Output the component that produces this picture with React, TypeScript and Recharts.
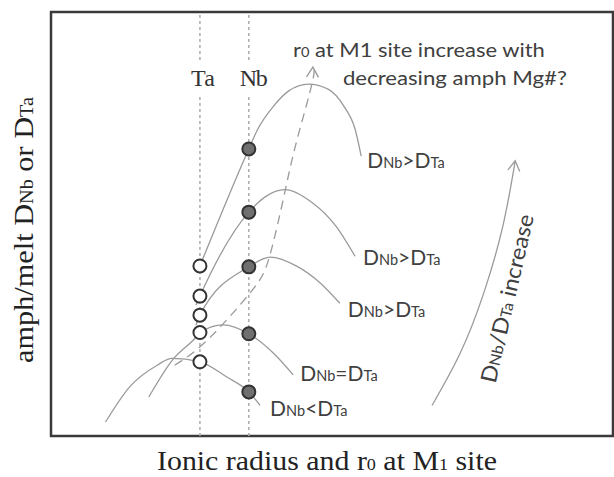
import React from 'react';
import {
  ComposedChart,
  Line,
  Scatter,
  XAxis,
  YAxis,
  ReferenceLine,
  ReferenceArea,
  ReferenceDot,
  LabelList,
} from 'recharts';

// Element positions on the ionic-radius axis (arbitrary units, 0–100)
const elements = ['Ta', 'Nb'];
const elementRadius = [26.5, 35.2];

// amph/melt D values at Ta and Nb for each lattice-strain curve (top to bottom)
const taValues = [40.1, 33.0, 28.5, 24.4, 17.5];
const nbValues = [67.7, 52.8, 39.9, 24.1, 10.4];
const relations = ['>', '>', '>', '=', '<'];

// Lattice-strain parabolas, ionic radius r vs partition coefficient d
const curveA = [
  { r: 26.5, d: 40.1 }, { r: 35.2, d: 67.7 }, { r: 36.8, d: 72.4 }, { r: 39.6, d: 77.8 },
  { r: 42.3, d: 81.4 }, { r: 45.8, d: 83.0 }, { r: 49.3, d: 81.8 }, { r: 52.1, d: 77.8 },
  { r: 54.1, d: 72.4 }, { r: 55.2, d: 66.0 },
];
const curveB = [
  { r: 25.8, d: 30.9 }, { r: 26.5, d: 33.0 }, { r: 35.2, d: 52.8 }, { r: 38.1, d: 56.4 },
  { r: 41.6, d: 58.1 }, { r: 46.5, d: 55.0 }, { r: 50.7, d: 49.5 }, { r: 54.1, d: 42.4 },
];
const curveC = [
  { r: 25.8, d: 26.2 }, { r: 26.5, d: 28.5 }, { r: 35.2, d: 39.9 }, { r: 39.0, d: 42.2 },
  { r: 43.8, d: 40.0 }, { r: 47.9, d: 36.1 }, { r: 51.4, d: 31.3 },
];
const curveD = [
  { r: 17.4, d: 9.2 }, { r: 21.6, d: 17.9 }, { r: 25.8, d: 23.3 }, { r: 26.5, d: 24.4 },
  { r: 30.6, d: 26.2 }, { r: 35.2, d: 24.1 }, { r: 39.6, d: 19.5 }, { r: 43.1, d: 14.4 },
];
const curveE = [
  { r: 9.7, d: 3.3 }, { r: 14.0, d: 11.6 }, { r: 18.9, d: 16.7 }, { r: 21.5, d: 18.3 },
  { r: 26.5, d: 17.5 }, { r: 31.3, d: 13.9 }, { r: 35.2, d: 10.4 }, { r: 37.2, d: 7.2 },
];
const curves = [curveA, curveB, curveC, curveD, curveE];

// Trend of r0 through the curve maxima (dashed arrow)
const r0Trend = [
  { r: 22.0, d: 16.7 }, { r: 27.8, d: 22.6 }, { r: 35.4, d: 33.7 }, { r: 38.9, d: 42.4 },
  { r: 41.7, d: 58.1 }, { r: 43.8, d: 70.0 }, { r: 46.5, d: 83.4 }, { r: 46.6, d: 87.0 },
];

// DNb/DTa increase arrow
const ratioArrow = [
  { r: 67.8, d: 7.2 }, { r: 72.8, d: 19.5 }, { r: 77.0, d: 33.7 }, { r: 80.4, d: 49.5 },
  { r: 82.6, d: 64.9 },
];

const taPoints = taValues.map((d) => ({ r: elementRadius[0], d }));
const nbPoints = nbValues.map((d) => ({ r: elementRadius[1], d }));

const SANS = 'Lato, "Open Sans", sans-serif';
const SERIF = '"Liberation Serif", "Times New Roman", serif';
const CURVE = '#9a9a9a';
const INK = '#404040';

// offsets from each curve's end to its ratio label
const labelOffsets = [
  [6, 12], [8, 9], [8, 14], [7, 6], [10, 11],
];

const ratioLabel = (k: number, len: number) => (props: any) => {
  const { x, y, index } = props;
  if (index !== len - 1) return null;
  const [dx, dy] = labelOffsets[k];
  return (
    <text x={x + dx} y={y + dy} fontFamily={SANS} fill={INK}>
      <tspan fontSize={21}>D</tspan>
      <tspan fontSize={14.5}>Nb</tspan>
      <tspan fontSize={21}>{relations[k]}D</tspan>
      <tspan fontSize={14.5}>Ta</tspan>
    </text>
  );
};

const arrowHead = (len: number, tilt: number) => (props: any) => {
  const { x, y, index } = props;
  if (index !== len - 1) return null;
  return (
    <path
      d={`M${x - 6},${y + 10} L${x},${y} L${x + 6},${y + 10}`}
      transform={`rotate(${tilt}, ${x}, ${y})`}
      fill="none"
      stroke={CURVE}
      strokeWidth={1.3}
    />
  );
};

const trendNote = (props: any) => {
  const { x, y, index } = props;
  if (index !== r0Trend.length - 1) return null;
  return (
    <g fontFamily={SANS} fill={INK} fontSize={19.5}>
      <text x={x - 20} y={y - 10} textLength={252} lengthAdjust="spacingAndGlyphs">
        r<tspan fontSize={13}>0</tspan> at M1 site increase with
      </text>
      <text x={x + 30} y={y + 18} textLength={224} lengthAdjust="spacingAndGlyphs">
        decreasing amph Mg#?
      </text>
    </g>
  );
};

const ratioNote = (props: any) => {
  const { x, y, index } = props;
  if (index !== 2) return null;
  const cx = x + 31;
  const cy = y + 7;
  return (
    <text
      x={cx}
      y={cy}
      transform={`rotate(-77, ${cx}, ${cy})`}
      textAnchor="middle"
      fontFamily={SANS}
      fill={INK}
      textLength={172}
      lengthAdjust="spacingAndGlyphs"
    >
      <tspan fontSize={22}>D</tspan>
      <tspan fontSize={15}>Nb</tspan>
      <tspan fontSize={22}>/D</tspan>
      <tspan fontSize={15}>Ta</tspan>
      <tspan fontSize={22}> increase</tspan>
    </text>
  );
};

const XTitle = (props: any) => {
  const vb = props.viewBox || { x: 51, y: 436, width: 562, height: 41 };
  const cx = vb.x + vb.width / 2 - 5;
  return (
    <text
      x={cx}
      y={vb.y + 34}
      textAnchor="middle"
      fontFamily={SERIF}
      fontSize={28}
      fill="#222"
      textLength={340}
      lengthAdjust="spacingAndGlyphs"
    >
      Ionic radius and r<tspan fontSize={17}>0</tspan> at M<tspan fontSize={17}>1</tspan> site
    </text>
  );
};

const YTitle = (props: any) => {
  const vb = props.viewBox || { x: 0, y: 12, width: 51, height: 424 };
  const cx = vb.x + 33;
  const cy = 230;
  return (
    <text
      x={cx}
      y={cy}
      transform={`rotate(-90, ${cx}, ${cy})`}
      textAnchor="middle"
      fontFamily={SERIF}
      fontSize={27}
      fill="#222"
      textLength={266}
      lengthAdjust="spacingAndGlyphs"
    >
      amph/melt D<tspan fontSize={18}>Nb</tspan> or D<tspan fontSize={18}>Ta</tspan>
    </text>
  );
};

const openCircle = (p: any) => (
  <circle cx={p.cx} cy={p.cy} r={6.5} fill="#fff" stroke="#333" strokeWidth={2} />
);
const filledCircle = (p: any) => (
  <circle cx={p.cx} cy={p.cy} r={6.5} fill="#6f6f6f" stroke="#333" strokeWidth={2} />
);

const elementTag = (name: string) => (p: any) => (
  <text
    x={p.cx - 9}
    y={p.cy}
    fontFamily={SERIF}
    fontSize={24}
    fill="#333"
    textLength={name === 'Ta' ? 24 : 28}
    lengthAdjust="spacing"
  >
    {name}
  </text>
);

export default function App() {
  return (
    <div style={{ position: 'absolute', left: 0, top: 0, background: '#fff' }}>
      <ComposedChart
        width={614}
        height={477}
        margin={{ top: 12, right: 1, bottom: 0, left: 0 }}
      >
        <XAxis
          dataKey="r"
          type="number"
          domain={[0, 100]}
          allowDataOverflow
          height={41}
          axisLine={false}
          tickLine={false}
          tick={false}
          label={<XTitle />}
        />
        <YAxis
          dataKey="d"
          type="number"
          domain={[0, 100]}
          allowDataOverflow
          width={51}
          axisLine={false}
          tickLine={false}
          tick={false}
          label={<YTitle />}
        />

        {elementRadius.map((r) => (
          <ReferenceLine
            key={`lo-${r}`}
            segment={[{ x: r, y: 0 }, { x: r, y: 80.0 }]}
            stroke="#aaa"
            strokeWidth={1.5}
            strokeDasharray="3 3"
          />
        ))}
        {elementRadius.map((r) => (
          <ReferenceLine
            key={`hi-${r}`}
            segment={[{ x: r, y: 88.7 }, { x: r, y: 100 }]}
            stroke="#aaa"
            strokeWidth={1.5}
            strokeDasharray="3 3"
          />
        ))}
        {elements.map((name, i) => (
          <ReferenceDot
            key={name}
            x={elementRadius[i]}
            y={82.5}
            r={0}
            ifOverflow="visible"
            shape={elementTag(name)}
          />
        ))}

        {curves.map((c, k) => (
          <Line
            key={`curve-${k}`}
            data={c}
            dataKey="d"
            type="monotone"
            stroke={CURVE}
            strokeWidth={1.3}
            dot={false}
            activeDot={false}
            isAnimationActive={false}
          >
            <LabelList dataKey="d" content={ratioLabel(k, c.length)} />
          </Line>
        ))}

        <Line
          data={r0Trend}
          dataKey="d"
          type="natural"
          stroke={CURVE}
          strokeWidth={1.3}
          strokeDasharray="9 6"
          dot={false}
          activeDot={false}
          isAnimationActive={false}
        >
          <LabelList dataKey="d" content={arrowHead(r0Trend.length, 2)} />
          <LabelList dataKey="d" content={trendNote} />
        </Line>

        <Line
          data={ratioArrow}
          dataKey="d"
          type="natural"
          stroke={CURVE}
          strokeWidth={1.3}
          dot={false}
          activeDot={false}
          isAnimationActive={false}
        >
          <LabelList dataKey="d" content={arrowHead(ratioArrow.length, 8)} />
          <LabelList dataKey="d" content={ratioNote} />
        </Line>

        <Scatter data={taPoints} dataKey="d" shape={openCircle} isAnimationActive={false} />
        <Scatter data={nbPoints} dataKey="d" shape={filledCircle} isAnimationActive={false} />

        <ReferenceArea
          x1={0}
          x2={100}
          y1={0}
          y2={100}
          fill="none"
          stroke="#3a3a3a"
          strokeWidth={2.5}
          ifOverflow="visible"
        />
      </ComposedChart>
    </div>
  );
}
